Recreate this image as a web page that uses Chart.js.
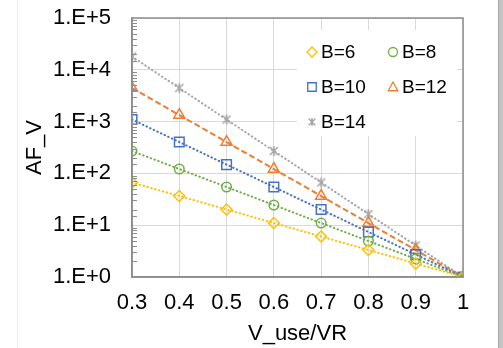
<!DOCTYPE html>
<html>
<head>
<meta charset="utf-8">
<script src="https://cdn.jsdelivr.net/npm/chart.js@4/dist/chart.umd.min.js"></script>
<style>
  body { margin: 0; background: #fff; }
  #wrap { position: relative; width: 503px; height: 348px; overflow: hidden; }
  #frameLeft { position: absolute; left: 17px; top: 0; width: 1px; height: 348px; background: #f0f0f0; }
  #frameRight { position: absolute; left: 498px; top: 0; width: 5px; height: 348px; background: #c4c4c4; border-left: 1px solid #a8a8a8; }
</style>
</head>
<body>
<div id="wrap">
  <div id="frameLeft"></div>
  <canvas id="afChart" width="498" height="348"></canvas>
  <div id="frameRight"></div>
</div>
<script>
// Voltage ratio steps
const ratios = [0.3, 0.4, 0.5, 0.6, 0.7, 0.8, 0.9, 1];

// Acceleration factor per B value
const afB6  = [66.7, 36.6, 20.1, 11.0, 6.05, 3.32, 1.82, 1];
const afB8  = [270, 121.5, 54.6, 24.5, 11.0, 4.95, 2.23, 1];
const afB10 = [1097, 403, 148, 54.6, 20.1, 7.39, 2.72, 1];
const afB12 = [4447, 1339, 403, 121.5, 36.6, 11.0, 3.32, 1];
const afB14 = [18034, 4447, 1097, 270, 66.7, 16.4, 4.06, 1];

const seriesNames = ["B=6", "B=8", "B=10", "B=12", "B=14"];

const FONT = "'Liberation Sans', Arial, sans-serif";
const GRID = "#d9d9d9";
const AXIS = "#8c8c8c";

// asterisk marker: an x with a vertical stroke
function makeAsterisk(r, color) {
    const c = document.createElement("canvas");
    const s = Math.ceil(r * 2 + 4);
    c.width = s; c.height = s;
    const g = c.getContext("2d");
    const m = s / 2;
    g.strokeStyle = color;
    g.lineWidth = 1.5;
    g.beginPath();
    g.moveTo(m - r * 0.8, m - r * 0.8); g.lineTo(m + r * 0.8, m + r * 0.8);
    g.moveTo(m + r * 0.8, m - r * 0.8); g.lineTo(m - r * 0.8, m + r * 0.8);
    g.moveTo(m, m - r); g.lineTo(m, m + r);
    g.stroke();
    return c;
}

const styles = [
    { color: "#FFC000", point: "rectRot", radius: 5.5, dash: [0.5, 3.5], cap: "round" },
    { color: "#70AD47", point: "circle", radius: 4.8, dash: [0.5, 3.5], cap: "round" },
    { color: "#4472C4", point: "rect", radius: 6.8, dash: [0.5, 3.5], cap: "round" },
    { color: "#ED7D31", point: "triangle", radius: 6.4, dash: [6, 3], cap: "butt" },
    { color: "#A5A5A5", point: makeAsterisk(5, "#A5A5A5"), radius: 5, dash: [0.5, 3.5], cap: "round" }
];
const legendMarks = [
    makeAsterisk(4, "#A5A5A5")
];

const allSeries = [afB6, afB8, afB10, afB12, afB14];

const datasets = allSeries.map((vals, i) => ({
    label: seriesNames[i],
    data: ratios.map((x, j) => ({ x: x, y: vals[j] })),
    borderColor: styles[i].color,
    backgroundColor: "rgba(0,0,0,0)",
    borderWidth: 2,
    borderDash: styles[i].dash,
    borderCapStyle: styles[i].cap,
    pointStyle: styles[i].point,
    pointRadius: styles[i].radius,
    pointBorderWidth: 1.5,
    pointBorderColor: styles[i].color,
    pointBackgroundColor: "rgba(0,0,0,0)",
    tension: 0
}));

function isDecade(v) {
    const e = Math.log10(v);
    return Math.abs(e - Math.round(e)) < 1e-9;
}

// outer frame of the plot + small minor ticks on the log axis
const plotFrame = {
    id: "plotFrame",
    afterDatasetsDraw(chart) {
        const { ctx, chartArea: a, scales } = chart;
        ctx.save();
        ctx.strokeStyle = AXIS;
        ctx.lineWidth = 1;
        scales.y.ticks.forEach(t => {
            if (isDecade(t.value)) return;
            const py = Math.round(scales.y.getPixelForValue(t.value)) + 0.5;
            ctx.beginPath();
            ctx.moveTo(a.left, py);
            ctx.lineTo(a.left + 5, py);
            ctx.stroke();
        });
        ctx.lineWidth = 1.5;
        ctx.strokeRect(a.left, a.top, a.right - a.left, a.bottom - a.top);
        ctx.restore();
    }
};

function drawMark(ctx, st, x, y, r) {
    ctx.save();
    ctx.strokeStyle = st.color;
    ctx.lineWidth = 1.3;
    ctx.beginPath();
    if (st.point === "rectRot") {
        ctx.moveTo(x, y - r); ctx.lineTo(x + r, y); ctx.lineTo(x, y + r); ctx.lineTo(x - r, y); ctx.closePath();
    } else if (st.point === "circle") {
        ctx.arc(x, y, r * 0.9, 0, Math.PI * 2);
    } else if (st.point === "rect") {
        ctx.rect(x - r * 0.85, y - r * 0.85, r * 1.7, r * 1.7);
    } else if (st.point === "triangle") {
        ctx.moveTo(x, y - r); ctx.lineTo(x + r * 0.95, y + r * 0.75); ctx.lineTo(x - r * 0.95, y + r * 0.75); ctx.closePath();
    }
    ctx.stroke();
    ctx.restore();
}

// two-column legend inside the plot, top right
const innerLegend = {
    id: "innerLegend",
    afterDraw(chart) {
        const { ctx, chartArea: a } = chart;
        const bx = a.left + 165, by = a.top + 12;
        ctx.save();
        ctx.fillStyle = "#fff";
        ctx.fillRect(bx, by, 160, 106);
        ctx.font = "19px " + FONT;
        ctx.textBaseline = "middle";
        ctx.fillStyle = "#000";
        const cols = [bx + 15, bx + 96];
        const rows = [by + 22, by + 57, by + 92];
        seriesNames.forEach((name, i) => {
            const mx = cols[i % 2], my = rows[Math.floor(i / 2)];
            if (i === 4) {
                const img = legendMarks[0];
                ctx.drawImage(img, mx - img.width / 2, my - img.height / 2);
            } else {
                drawMark(ctx, styles[i], mx, my, 5);
            }
            ctx.fillText(name, mx + 9, my + 1);
        });
        ctx.restore();
    }
};

new Chart(document.getElementById("afChart"), {
    type: "line",
    data: { datasets: datasets },
    options: {
        responsive: false,
        animation: false,
        devicePixelRatio: 1,
        layout: { padding: { top: 18, right: 35, bottom: 0, left: 0 } },
        plugins: { legend: { display: false }, tooltip: { enabled: false } },
        scales: {
            x: {
                type: "linear",
                min: 0.3,
                max: 1,
                afterFit: s => { s.height = 71; },
                ticks: {
                    stepSize: 0.1,
                    padding: 13,
                    color: "#000",
                    font: { family: FONT, size: 22 },
                    callback: v => String(Number(v.toFixed(1)))
                },
                grid: { color: GRID, lineWidth: 1, drawTicks: false },
                border: { color: AXIS, width: 1.5 },
                title: {
                    display: true,
                    text: "V_use/VR",
                    color: "#000",
                    font: { family: FONT, size: 22 },
                    padding: { top: 0, bottom: 1 }
                }
            },
            y: {
                type: "logarithmic",
                min: 1,
                max: 100000,
                afterFit: s => { s.width = 132; s.paddingTop = 0; s.paddingBottom = 0; },
                ticks: {
                    autoSkip: false,
                    padding: 21,
                    color: "#000",
                    font: { family: FONT, size: 22 },
                    callback: v => isDecade(v) ? "1.E+" + Math.round(Math.log10(v)) : ""
                },
                grid: {
                    drawTicks: false,
                    lineWidth: 1,
                    color: c => (c.tick && isDecade(c.tick.value)) ? GRID : "rgba(0,0,0,0)"
                },
                border: { color: AXIS, width: 1.5 },
                title: {
                    display: true,
                    text: "AF_V",
                    color: "#000",
                    font: { family: FONT, size: 22 },
                    padding: { top: 22, bottom: 0 }
                }
            }
        }
    },
    plugins: [plotFrame, innerLegend]
});
</script>
</body>
</html>
